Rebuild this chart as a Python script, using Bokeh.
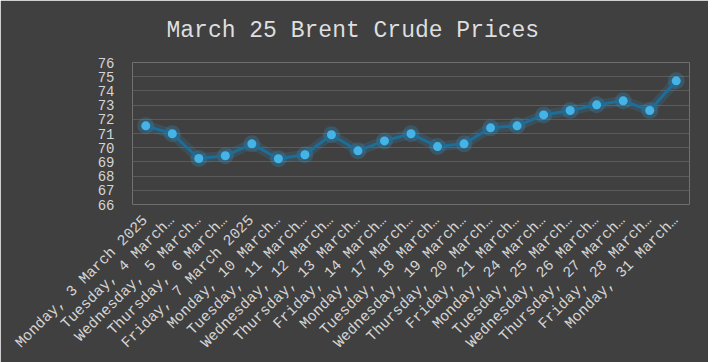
from bokeh.plotting import figure
from bokeh.models import Range1d, FactorRange, ColumnDataSource, Title, FixedTicker, Grid
from bokeh.embed import file_html
from bokeh.resources import INLINE
import math

title = "March 25 Brent Crude Prices"
dates = [
    "Monday, 3 March 2025", "Tuesday, 4 March…", "Wednesday, 5 March…",
    "Thursday, 6 March…", "Friday, 7 March 2025", "Monday, 10 March…",
    "Tuesday, 11 March…", "Wednesday, 12 March…", "Thursday, 13 March…",
    "Friday, 14 March…", "Monday, 17 March…", "Tuesday, 18 March…",
    "Wednesday, 19 March…", "Thursday, 20 March…", "Friday, 21 March…",
    "Monday, 24 March…", "Tuesday, 25 March…", "Wednesday, 26 March…",
    "Thursday, 27 March…", "Friday, 28 March…", "Monday, 31 March…",
]
prices = [71.54, 70.98, 69.24, 69.43, 70.27, 69.22, 69.50, 70.91, 69.78, 70.48,
          70.98, 70.08, 70.27, 71.40, 71.54, 72.31, 72.62, 73.02, 73.30, 72.62, 74.71]
y_ticks = list(range(66, 77))
grid_ticks = list(range(67, 77))

BG = "#404040"
TXT = "#d4d4d4"
FONT = "Liberation Mono"

src = ColumnDataSource(dict(x=dates, y=prices))

p = figure(frame_width=557, frame_height=142, x_range=FactorRange(*dates, range_padding=0),
           y_range=Range1d(66, 76), output_backend="svg", toolbar_location=None,
           min_border_left=132, min_border_right=19, min_border_top=62, min_border_bottom=158)
p.background_fill_color = BG
p.border_fill_color = BG
p.outline_line_color = None

# spacer (nearest the frame), then the main title above it
p.add_layout(Title(text=" ", text_font_size="5px", standoff=5, text_color=BG), "above")
p.add_layout(Title(text=title, align="left", offset=34, vertical_align="middle",
                   text_font=FONT, text_font_size="23px", text_font_style="normal",
                   text_color="#dedede"), "above")

p.xgrid.grid_line_color = None
p.ygrid.grid_line_color = None
p.add_layout(Grid(dimension=1, ticker=FixedTicker(ticks=grid_ticks),
                  grid_line_color="#5b5b5b", grid_line_width=1))

p.yaxis.ticker = y_ticks
p.yaxis.axis_line_color = None
p.yaxis.major_tick_line_color = None
p.yaxis.minor_tick_line_color = None
p.yaxis.major_label_text_color = TXT
p.yaxis.major_label_text_font = FONT
p.yaxis.major_label_text_font_size = "14px"
p.yaxis.major_label_standoff = 12

p.xaxis.axis_line_color = None
p.xaxis.major_tick_line_color = None
p.xaxis.major_label_orientation = math.pi / 4
p.xaxis.major_label_text_color = TXT
p.xaxis.major_label_text_font = FONT
p.xaxis.major_label_text_font_size = "15px"
p.xaxis.major_label_standoff = 8

# glow
p.line("x", "y", source=src, line_color="#2a9ad8", line_width=10, line_alpha=0.16)
p.scatter("x", "y", source=src, size=17, fill_color="#2a9ad8", fill_alpha=0.25, line_color=None)
p.line("x", "y", source=src, line_color="#1c6d98", line_width=3)
p.scatter("x", "y", source=src, size=9, fill_color="#44b4e8", line_color=None)

open("out.html", "w").write(file_html(p, INLINE))
